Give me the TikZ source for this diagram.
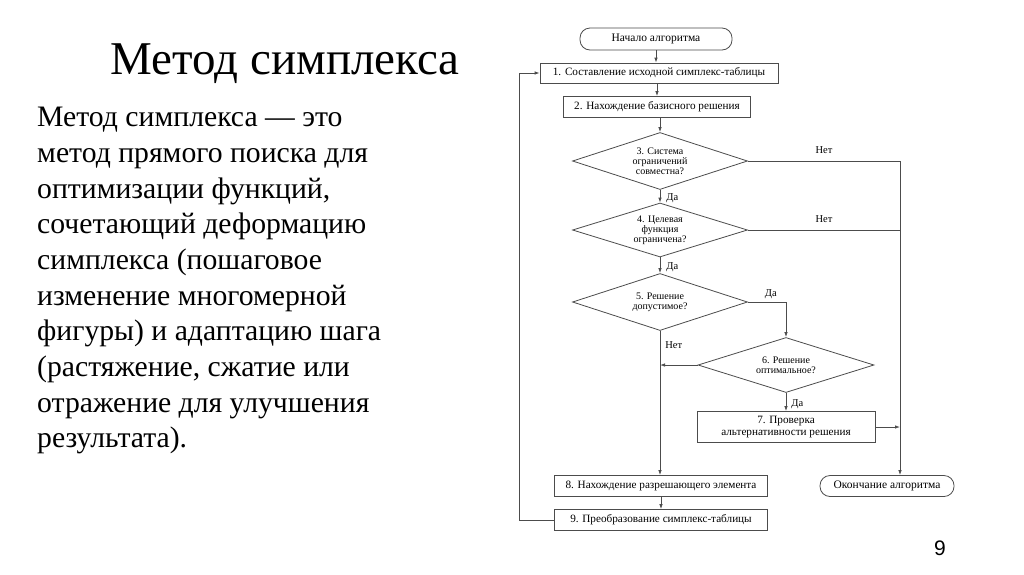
\documentclass[tikz,border=0pt]{standalone}
\usepackage{fontspec}
\setmainfont{Liberation Serif}
\newfontfamily\numfont{Liberation Sans}
\usepackage{tikz}
\usetikzlibrary{positioning}
\usetikzlibrary{arrows.meta,shapes}
\usetikzlibrary{calc}
\tikzstyle{block}=[rectangle,draw=black!70,fill=white,line width=0.8pt,inner sep=0pt,align=center,font=\fontsize{11.2}{12.5}\selectfont]
\tikzstyle{term}=[rectangle,rounded corners=10pt,draw=black!70,fill=white,line width=0.8pt,inner sep=0pt,font=\fontsize{11.5}{12.5}\selectfont]
\tikzstyle{decision}=[diamond,aspect=3,draw=black!70,fill=white,line width=0.8pt,inner sep=0pt,align=center,font=\fontsize{10}{10.2}\selectfont]
\tikzstyle{edge} = [draw,line width=0.8pt,black!70,-{Latex[length=5pt,width=3.5pt]}]
\tikzstyle{undirectededge} = [draw,line width=0.8pt,black!70]
\tikzstyle{weight} = [font=\fontsize{10.5}{11}\selectfont,black,inner sep=3pt]
\tikzset{bodytext/.style={align=left,anchor=north west,inner sep=0pt,font=\fontsize{29.7}{35.7}\selectfont}}

\begin{document}
\begin{tikzpicture}[x=1pt,y=-1pt]
 \useasboundingbox[fill=white] (0,0) rectangle (1024,574);

 %Title and text
 \node[font=\fontsize{47}{52}\selectfont] (title) at (285,64) {Метод симплекса};
 \node[bodytext] (body) at (37,107) {Метод симплекса — это\\
   метод прямого поиска для\\
   оптимизации функций,\\
   сочетающий деформацию\\
   симплекса (пошаговое\\
   изменение многомерной\\
   фигуры) и адаптацию шага\\
   (растяжение, сжатие или\\
   отражение для улучшения\\
   результата).};
 \node[font=\numfont\fontsize{21}{24}\selectfont] (pagenum) at (940,548) {9};

 %Start and end
 \foreach \x/\y/\w/\h/\name/\label in {656/39/152/22/start/{Начало алгоритма}, 887/486/134/21/finish/{Окончание алгоритма}}
          \node[term, minimum width=\w, minimum height=\h] (\name) at (\x,\y) {\label};

 %Boxes
 \foreach \x/\y/\w/\h/\name/\label in {659/73/238/20/b1/{1. Составление исходной симплекс-таблицы},
          657/107/187/21/b2/{2. Нахождение базисного решения},
          786/427/178/31/b7/{7. Проверка\\альтернативности решения},
          661/486/213/21/b8/{8. Нахождение разрешающего элемента},
          661/520/213/21/b9/{9. Преобразование симплекс-таблицы}}
          \node[block, minimum width=\w, minimum height=\h] (\name) at (\x,\y) {\label};

 %Decisions
 \foreach \x/\y/\w/\h/\name/\label in {660/161/175/57/d3/{3. Система\\ограничений\\совместна?},
          660/230/175/54/d4/{4. Целевая\\функция\\ограничена?},
          660/302/175/57/d5/{5. Решение\\допустимое?},
          786/365/176/55/d6/{6. Решение\\оптимальное?}}
          \node[decision, minimum width=\w, minimum height=\h] (\name) at (\x,\y) {\label};

 \coordinate (bus) at (900,0);

 %Main line
 \path[edge] (start.south) -- (start.south |- b1.north);
 \path[edge] (b1.south -| b2.north) -- (b2.north);
 \path[edge] (b2.south -| d3.north) -- (d3.north);
 \path[edge] (d3.south) -- node[weight,right,xshift=3pt,yshift=-2pt] {Да} (d4.north);
 \path[edge] (d4.south) -- node[weight,right,xshift=3pt,yshift=-2pt] {Да} (d5.north);
 \path[edge] (d5.east) -| node[weight,above,pos=0.3] {Да} (d6.north);
 \path[edge] (d5.south) -- node[weight,right,pos=0.1,xshift=2pt] {Нет} (d5.south |- b8.north);
 \path[edge] (d6.west) -- (d6.west -| d5.south);
 \path[edge] (d6.south) -- node[weight,right,xshift=2pt,yshift=-2pt] {Да} (b7.north);
 \path[edge] (b8.south -| b9.north) -- (b9.north);

 %Right line
 \path[undirectededge] (d3.east) -- node[weight,above,yshift=4pt] {Нет} (d3.east -| bus);
 \path[edge] (d3.east -| bus) -- (bus |- finish.north);
 \path[undirectededge] (d4.east) -- node[weight,above,yshift=4pt] {Нет} (d4.east -| bus);
 \path[edge] (b7.east) -- (b7.east -| bus);

 %Loop back
 \path[edge] (b9.west) -- ++(-35,0) |- (b1.west);

\end{tikzpicture}
\end{document}
